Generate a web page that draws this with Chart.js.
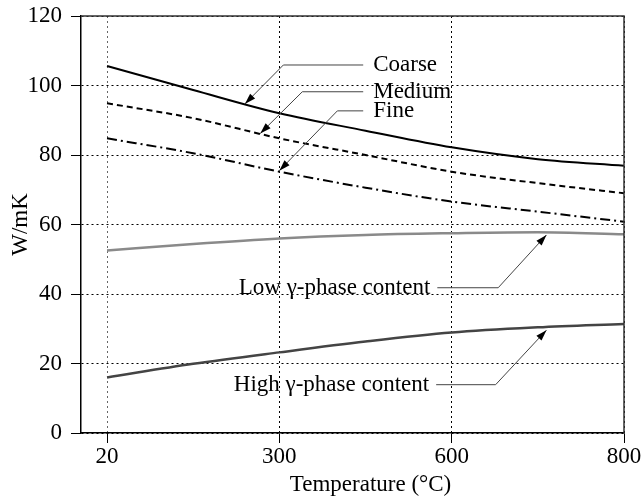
<!DOCTYPE html>
<html>
<head>
<meta charset="utf-8">
<script src="https://cdn.jsdelivr.net/npm/chart.js@4.4.1/dist/chart.umd.min.js"></script>
<style>
  html, body { margin: 0; padding: 0; background: #fff; }
  #wrap { width: 643px; height: 499px; }
</style>
</head>
<body>
<div id="wrap"><canvas id="chart" width="643" height="499"></canvas></div>
<script>
// tick temperatures are spaced evenly on the axis (not to scale)
const tickTemps = [20, 300, 600, 800];
const temps = [20, 160, 300, 450, 600, 700, 800];

const coarse = [105.6, 98.7, 92.0, 87.0, 82.2, 78.8, 76.9];
const medium = [94.9, 90.6, 84.8, 80.0, 75.2, 71.9, 69.0];
const fine = [84.8, 80.5, 75.2, 70.6, 66.6, 63.7, 60.8];
const lowGamma = [52.5, 54.4, 56.0, 57.0, 57.5, 57.8, 57.2];
const highGamma = [16.0, 19.9, 23.2, 26.3, 28.9, 30.4, 31.4];

const seriesNames = ['Coarse', 'Medium', 'Fine', 'Low γ-phase content', 'High γ-phase content'];

const FONT = '"Liberation Serif", "Times New Roman", serif';
Chart.defaults.font.family = FONT;
Chart.defaults.font.size = 23;
Chart.defaults.color = '#000';

// map a temperature onto the evenly spaced tick positions
function tempToPos(t) {
  for (let i = 0; i < tickTemps.length - 1; i++) {
    if (t <= tickTemps[i + 1] || i === tickTemps.length - 2) {
      return i + (t - tickTemps[i]) / (tickTemps[i + 1] - tickTemps[i]);
    }
  }
}

const toPoints = vals => temps.map((t, i) => ({ x: tempToPos(t), y: vals[i] }));

// callouts: label anchor, elbow, arrow tip (temperature, W/mK)
const callouts = [
  { text: seriesNames[0], side: 'right', label: [446, 105.9], elbow: [307, 105.9], tip: [244, 94.7] },
  { text: seriesNames[1], side: 'right', label: [446, 98.2], elbow: [340, 98.2], tip: [269, 86.2] },
  { text: seriesNames[2], side: 'right', label: [446, 92.7], elbow: [401, 92.7], tip: [300, 75.5] },
  { text: seriesNames[3], side: 'left', label: [575, 41.8], elbow: [654, 41.8], tip: [710, 57.0] },
  { text: seriesNames[4], side: 'left', label: [573, 13.9], elbow: [651, 13.9], tip: [710, 29.6] },
];

const annotate = {
  id: 'annotate',
  afterDraw(chart) {
    const { ctx, chartArea: a, scales: { x, y } } = chart;
    const px = t => x.getPixelForValue(tempToPos(t));
    const py = v => y.getPixelForValue(v);

    // frame: top and right
    ctx.save();
    ctx.strokeStyle = '#333';
    ctx.lineWidth = 1.5;
    ctx.beginPath();
    ctx.moveTo(a.left, a.top);
    ctx.lineTo(a.right, a.top);
    ctx.lineTo(a.right, a.bottom);
    ctx.stroke();

    ctx.font = '23px ' + FONT;
    ctx.textBaseline = 'middle';
    callouts.forEach(c => {
      const lx = px(c.label[0]), ly = py(c.label[1]);
      const ex = px(c.elbow[0]), ey = py(c.elbow[1]);
      const tx = px(c.tip[0]), ty = py(c.tip[1]);
      ctx.strokeStyle = '#444';
      ctx.lineWidth = 1;
      ctx.beginPath();
      ctx.moveTo(lx, ly);
      ctx.lineTo(ex, ey);
      ctx.lineTo(tx, ty);
      ctx.stroke();
      // arrow head
      const ang = Math.atan2(ty - ey, tx - ex);
      const len = 11, half = 3.5;
      ctx.fillStyle = '#000';
      ctx.beginPath();
      ctx.moveTo(tx, ty);
      ctx.lineTo(tx - len * Math.cos(ang) + half * Math.sin(ang), ty - len * Math.sin(ang) - half * Math.cos(ang));
      ctx.lineTo(tx - len * Math.cos(ang) - half * Math.sin(ang), ty - len * Math.sin(ang) + half * Math.cos(ang));
      ctx.closePath();
      ctx.fill();
      if (c.side === 'right') {
        ctx.textAlign = 'left';
        ctx.fillText(c.text, lx + 10, ly);
      } else {
        ctx.textAlign = 'right';
        ctx.fillText(c.text, lx - 7, ly);
      }
    });

    // x axis title
    ctx.textAlign = 'center';
    ctx.textBaseline = 'alphabetic';
    const mid = (x.getPixelForValue(0) + x.getPixelForValue(tickTemps.length - 1)) / 2 + 5;
    ctx.fillText('Temperature (°C)', mid, 491);
    ctx.restore();
  }
};

new Chart(document.getElementById('chart'), {
  type: 'line',
  data: {
    datasets: [
      { label: seriesNames[0], data: toPoints(coarse), borderColor: '#000', borderWidth: 2 },
      { label: seriesNames[1], data: toPoints(medium), borderColor: '#000', borderWidth: 2, borderDash: [6, 4] },
      { label: seriesNames[2], data: toPoints(fine), borderColor: '#000', borderWidth: 2, borderDash: [10, 4, 2, 4] },
      { label: seriesNames[3], data: toPoints(lowGamma), borderColor: '#8a8a8a', borderWidth: 2.5 },
      { label: seriesNames[4], data: toPoints(highGamma), borderColor: '#444', borderWidth: 2.5 },
    ],
  },
  options: {
    responsive: false,
    animation: false,
    elements: { point: { radius: 0 }, line: { cubicInterpolationMode: 'monotone' } },
    layout: { padding: { top: 16, right: 19, left: 0, bottom: 0 } },
    plugins: { legend: { display: false }, tooltip: { enabled: false } },
    scales: {
      x: {
        type: 'linear',
        min: -0.151,
        max: tickTemps.length - 1,
        afterBuildTicks: scale => { scale.ticks = tickTemps.map((t, i) => ({ value: i })); },
        afterFit: scale => { scale.height = 66; },
        ticks: { callback: (v, i) => String(tickTemps[i]), padding: 0, maxRotation: 0 },
        grid: {
          color: ctx => (ctx.index === 0 ? '#666' : '#000'),
          tickColor: '#000',
          tickLength: 10,
        },
        border: { color: '#000', width: 1.5, dash: [2, 3] },
      },
      y: {
        min: 0,
        max: 120,
        afterFit: scale => {
          scale.width = 81;
          scale.paddingTop = 0;
          scale.paddingBottom = 0;
        },
        ticks: { stepSize: 20, padding: 9 },
        grid: { color: '#000', tickColor: '#000', tickLength: 10 },
        border: { color: '#000', width: 1.5, dash: [2, 3] },
        title: { display: true, text: 'W/mK', padding: { top: 7, bottom: 0 } },
      },
    },
  },
  plugins: [annotate],
});
</script>
</body>
</html>
